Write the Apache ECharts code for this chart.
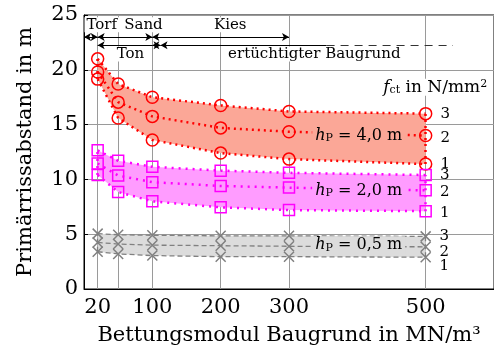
<!DOCTYPE html>
<html><head><meta charset="utf-8">
<script src="https://cdn.jsdelivr.net/npm/echarts@6/dist/echarts.min.js"></script>
<style>html,body{margin:0;padding:0;background:#fff}#c{width:494px;height:351px}</style>
</head><body><div id="c"></div>
<script>
// ---- data ----
const xValues = [20, 50, 100, 200, 300, 500];
const xTickLabels = [20, 100, 200, 300, 500];
const yTicks = [0, 5, 10, 15, 20, 25];

// h_P = 4,0 m (red), f_ct = 1,2,3
const red1 = [19.15, 15.6, 13.6, 12.4, 11.85, 11.4];
const red2 = [19.8, 17.05, 15.75, 14.7, 14.35, 14.0];
const red3 = [21.0, 18.7, 17.5, 16.75, 16.2, 16.0];
// h_P = 2,0 m (magenta)
const mag1 = [10.4, 8.85, 8.0, 7.45, 7.2, 7.1];
const mag2 = [11.45, 10.35, 9.75, 9.4, 9.25, 9.0];
const mag3 = [12.65, 11.7, 11.15, 10.8, 10.6, 10.4];
// h_P = 0,5 m (gray)
const gray1 = [3.4, 3.2, 3.05, 2.95, 2.95, 2.9];
const gray2 = [4.25, 4.1, 4.0, 3.95, 3.9, 3.85];
const gray3 = [5.05, 4.95, 4.9, 4.85, 4.85, 4.8];

const fctNames = ['1', '2', '3'];
const groupNames = ['4,0', '2,0', '0,5'];

// soil annotation ranges (x in MN/m3)
const soilRow1 = [['Torf', 0, 20], ['Sand', 20, 100], ['Kies', 100, 300]];
const soilRow2 = [['Ton', 20, 100], ['ertüchtigter Baugrund', 112, 355]];
const soilRow2Dashed = [355, 540];

// ---- layout constants ----
const row1Y = 23.0, row2Y = 22.25;
const row1TextY = 24.1, row2TextY = 21.45;
const soilLabelX = { 'Torf': 26, 'Sand': 87, 'Kies': 214, 'Ton': 68, 'ertüchtigter Baugrund': 337 };
const hpLabelPos = [[402, 13.95], [402, 9.0], [402, 4.0]];
const legendPos = [514, 18.4];

const FONT = 'DejaVu Serif';
const pairs = arr => xValues.map((x, i) => [x, arr[i]]);
const lastIdx = xValues.length - 1;

const groups = [
  { lines: [red1, red2, red3], color: '#ff0000', fill: '#fba797', symbol: 'circle', size: 12,
    lineStyle: { width: 2.5, type: [2, 4], cap: 'butt' }, labelDy: [0, 3, 0] },
  { lines: [mag1, mag2, mag3], color: '#ff00ff', fill: '#ff9cff', symbol: 'rect', size: 11,
    lineStyle: { width: 2.5, type: [2, 5], cap: 'butt' }, labelDy: [2, 2, 0] },
  { lines: [gray1, gray2, gray3], color: '#808080', fill: '#dcdcdc', symbol: 'path://M0,0L10,10M0,10L10,0', size: 10,
    lineStyle: { width: 1.3, type: [5, 3], cap: 'butt' }, labelDy: [9, 5, 0] }
];

const series = [];
// vertical grid lines
series.push({
  type: 'line', data: [], z: 1, silent: true,
  markLine: {
    z: 1, silent: true, symbol: ['none', 'none'], animation: false,
    label: { show: false },
    lineStyle: { color: '#9a9a9a', width: 1, type: 'solid' },
    data: xValues.map(x => ({ xAxis: x }))
  }
});

groups.forEach((g, gi) => {
  const bottom = g.lines[0], top = g.lines[2];
  // filled band between f_ct = 1 and f_ct = 3
  series.push({
    type: 'custom', z: 2, silent: true,
    data: [[xValues[0], top[0]]],
    renderItem: (params, api) => {
      const upper = xValues.map((x, i) => api.coord([x, top[i]]));
      const lower = xValues.map((x, i) => api.coord([x, bottom[i]])).reverse();
      return { type: 'polygon', shape: { points: upper.concat(lower) }, style: { fill: g.fill, stroke: null } };
    }
  });
  g.lines.forEach((arr, li) => {
    const s = {
      type: 'line', data: pairs(arr), z: 3,
      symbol: g.symbol, symbolSize: g.size,
      lineStyle: Object.assign({ color: g.color }, g.lineStyle),
      itemStyle: { color: 'transparent', borderColor: g.color, borderWidth: 1.5 },
      label: {
        show: true, position: 'right', distance: 8,
        formatter: p => p.dataIndex === lastIdx ? fctNames[li] : '',
        fontFamily: FONT, fontSize: 15, color: '#000'
      },
      labelLayout: { hideOverlap: false, dy: g.labelDy[li] }
    };
    if (li === 0) {
      s.markLine = {
        z: 3, silent: true, symbol: ['none', 'none'], animation: false, label: { show: false },
        lineStyle: Object.assign({ color: g.color }, g.lineStyle),
        data: [
          [{ coord: [xValues[0], bottom[0]] }, { coord: [xValues[0], top[0]] }],
          [{ coord: [xValues[lastIdx], bottom[lastIdx]] }, { coord: [xValues[lastIdx], top[lastIdx]] }]
        ]
      };
    }
    if (li === 1) {
      s.markPoint = {
        z: 6, silent: true, animation: false, symbol: 'rect', symbolSize: 0,
        data: [{ coord: hpLabelPos[gi] }],
        label: {
          show: true, position: 'inside',
          formatter: '{i|h}{sub|P} = ' + groupNames[gi] + ' m',
          fontFamily: FONT, fontSize: 16, color: '#000',
          backgroundColor: g.fill, padding: [1, 3, 1, 3],
          rich: {
            i: { fontFamily: FONT, fontStyle: 'italic', fontSize: 16 },
            sub: { fontFamily: FONT, fontSize: 11, verticalAlign: 'bottom', lineHeight: 13 }
          }
        }
      };
    }
    series.push(s);
  });
});

// soil annotations
const arrowLines = [];
soilRow1.forEach(r => arrowLines.push([{ coord: [r[1], row1Y] }, { coord: [r[2], row1Y] }]));
soilRow2.forEach(r => arrowLines.push([{ coord: [r[1], row2Y] }, { coord: [r[2], row2Y], symbol: 'none' }]));
arrowLines.push([{ coord: [100, row2Y] }, { coord: [112, row2Y] }]);
const textPoints = [];
soilRow1.forEach(r => textPoints.push({ coord: [soilLabelX[r[0]], row1TextY], name: r[0] }));
soilRow2.forEach(r => textPoints.push({ coord: [soilLabelX[r[0]], row2TextY], name: r[0] }));

series.push({
  type: 'line', data: [], z: 5, silent: true,
  markLine: {
    z: 5, silent: true, animation: false, symbol: ['arrow', 'arrow'], symbolSize: [6, 7],
    label: { show: false },
    lineStyle: { color: '#000', width: 1, type: 'solid' },
    data: arrowLines.concat([
      [{ coord: [soilRow2Dashed[0], row2Y], symbol: 'none', lineStyle: { type: [8, 6], color: '#333' } },
       { coord: [soilRow2Dashed[1], row2Y], symbol: 'none' }]
    ])
  },
  markPoint: {
    z: 6, silent: true, animation: false, symbol: 'rect', symbolSize: 0,
    data: textPoints.concat([{
      coord: legendPos, name: 'fct',
      label: {
        fontSize: 17,
        rich: {
          i: { fontFamily: FONT, fontStyle: 'italic', fontSize: 17 },
          sub: { fontFamily: FONT, fontSize: 11, verticalAlign: 'bottom', lineHeight: 13 },
          sup: { fontFamily: FONT, fontSize: 11, verticalAlign: 'top', lineHeight: 13 }
        }
      }
    }]),
    label: {
      show: true, position: 'inside', color: '#000', fontFamily: FONT, fontSize: 15,
      backgroundColor: '#fff', padding: [0, 2, 0, 2],
      formatter: p => p.name === 'fct' ? '{i|f}{sub|ct} in N/mm{sup|2}' : p.name
    }
  }
});

const chart = echarts.init(document.getElementById('c'), null, { renderer: 'canvas' });
chart.setOption({
  animation: false,
  backgroundColor: '#fff',
  grid: { left: 84, right: -2, top: 15, bottom: 62, show: true, borderColor: '#000', borderWidth: 1 },
  xAxis: {
    type: 'value', min: 0, max: 600,
    name: 'Bettungsmodul Baugrund in MN/m³', nameLocation: 'middle', nameGap: 36,
    nameTextStyle: { fontFamily: FONT, fontSize: 21, color: '#000' },
    axisLine: { lineStyle: { color: '#000', width: 1 } },
    axisTick: { show: true, inside: true, length: 4, customValues: xValues, lineStyle: { color: '#000' } },
    axisLabel: { customValues: xTickLabels, fontFamily: FONT, fontSize: 21, color: '#000', margin: 8 },
    splitLine: { show: false }
  },
  yAxis: {
    type: 'value', min: yTicks[0], max: yTicks[yTicks.length - 1], interval: 5,
    name: 'Primärrissabstand in m', nameLocation: 'middle', nameGap: 48, nameRotate: 90,
    nameTextStyle: { fontFamily: FONT, fontSize: 21, color: '#000' },
    axisLine: { show: true, lineStyle: { color: '#000', width: 1 } },
    axisTick: { show: true, inside: true, length: 4, lineStyle: { color: '#000' } },
    axisLabel: { fontFamily: FONT, fontSize: 21, color: '#000', margin: 6 },
    splitLine: { show: true, lineStyle: { color: '#9a9a9a', width: 1 } }
  },
  series: series
});
</script></body></html>
